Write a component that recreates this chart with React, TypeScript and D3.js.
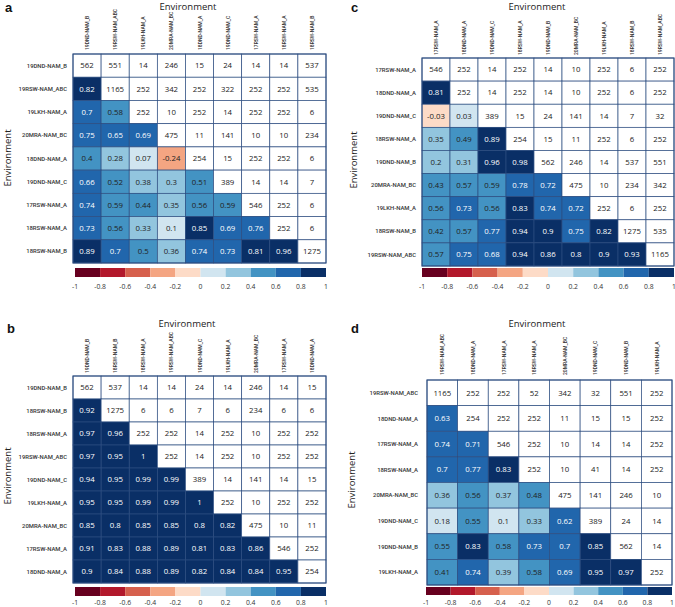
import React from "react";
import * as d3 from "d3";

// ---------- DATA ----------
const envA = ["19DND-NAM_B", "19RSW-NAM_ABC", "19LKH-NAM_A", "20MRA-NAM_BC", "18DND-NAM_A", "19DND-NAM_C", "17RSW-NAM_A", "18RSW-NAM_A", "18RSW-NAM_B"];
const matA = [
  [562, 551, 14, 246, 15, 24, 14, 14, 537],
  [0.82, 1165, 252, 342, 252, 322, 252, 252, 535],
  [0.7, 0.58, 252, 10, 252, 14, 252, 252, 6],
  [0.75, 0.65, 0.69, 475, 11, 141, 10, 10, 234],
  [0.4, 0.28, 0.07, -0.24, 254, 15, 252, 252, 6],
  [0.66, 0.52, 0.38, 0.3, 0.51, 389, 14, 14, 7],
  [0.74, 0.59, 0.44, 0.35, 0.56, 0.59, 546, 252, 6],
  [0.73, 0.56, 0.33, 0.1, 0.85, 0.69, 0.76, 252, 6],
  [0.89, 0.7, 0.5, 0.36, 0.74, 0.73, 0.81, 0.96, 1275],
];

const envB = ["19DND-NAM_B", "18RSW-NAM_B", "18RSW-NAM_A", "19RSW-NAM_ABC", "19DND-NAM_C", "19LKH-NAM_A", "20MRA-NAM_BC", "17RSW-NAM_A", "18DND-NAM_A"];
const matB = [
  [562, 537, 14, 14, 24, 14, 246, 14, 15],
  [0.92, 1275, 6, 6, 7, 6, 234, 6, 6],
  [0.97, 0.96, 252, 252, 14, 252, 10, 252, 252],
  [0.97, 0.95, 1, 252, 14, 252, 10, 252, 252],
  [0.94, 0.95, 0.99, 0.99, 389, 14, 141, 14, 15],
  [0.95, 0.95, 0.99, 0.99, 1, 252, 10, 252, 252],
  [0.85, 0.8, 0.85, 0.85, 0.8, 0.82, 475, 10, 11],
  [0.91, 0.83, 0.88, 0.89, 0.81, 0.83, 0.86, 546, 252],
  [0.9, 0.84, 0.88, 0.89, 0.82, 0.84, 0.84, 0.95, 254],
];

const envC = ["17RSW-NAM_A", "18DND-NAM_A", "19DND-NAM_C", "18RSW-NAM_A", "19DND-NAM_B", "20MRA-NAM_BC", "19LKH-NAM_A", "18RSW-NAM_B", "19RSW-NAM_ABC"];
const matC = [
  [546, 252, 14, 252, 14, 10, 252, 6, 252],
  [0.81, 252, 14, 252, 14, 10, 252, 6, 252],
  [-0.03, 0.03, 389, 15, 24, 141, 14, 7, 32],
  [0.35, 0.49, 0.89, 254, 15, 11, 252, 6, 252],
  [0.2, 0.31, 0.96, 0.98, 562, 246, 14, 537, 551],
  [0.43, 0.57, 0.59, 0.78, 0.72, 475, 10, 234, 342],
  [0.56, 0.73, 0.56, 0.83, 0.74, 0.72, 252, 6, 252],
  [0.42, 0.57, 0.77, 0.94, 0.9, 0.75, 0.82, 1275, 535],
  [0.57, 0.75, 0.68, 0.94, 0.86, 0.8, 0.9, 0.93, 1165],
];

const envD = ["19RSW-NAM_ABC", "18DND-NAM_A", "17RSW-NAM_A", "18RSW-NAM_A", "20MRA-NAM_BC", "19DND-NAM_C", "19DND-NAM_B", "19LKH-NAM_A"];
const matD = [
  [1165, 252, 252, 52, 342, 32, 551, 252],
  [0.63, 254, 252, 252, 11, 15, 15, 252],
  [0.74, 0.71, 546, 252, 10, 14, 14, 252],
  [0.7, 0.77, 0.83, 252, 10, 41, 14, 252],
  [0.36, 0.56, 0.37, 0.48, 475, 141, 246, 10],
  [0.18, 0.55, 0.1, 0.33, 0.62, 389, 24, 14],
  [0.55, 0.83, 0.58, 0.73, 0.7, 0.85, 562, 14],
  [0.41, 0.74, 0.39, 0.58, 0.69, 0.95, 0.97, 252],
];

const colorbarTicks = [-1, -0.8, -0.6, -0.4, -0.2, 0, 0.2, 0.4, 0.6, 0.8, 1];
const binColors = ["#67001f", "#b2182b", "#d6604d", "#f4a582", "#fddbc7", "#d1e5f0", "#92c5de", "#4393c3", "#2166ac", "#0a2f66"];
const axisTitle = "Environment";

// ---------- STYLE / LAYOUT ----------
const color = d3.scaleThreshold<number, string>()
  .domain([-0.8, -0.6, -0.4, -0.2, 0, 0.2, 0.4, 0.6, 0.8])
  .range(binColors);

const STROKE = "#2d4d80";
const LABEL_FONT = "Roboto, 'DejaVu Sans', sans-serif";
const VALUE_FONT = "'Open Sans', 'Noto Sans', sans-serif";

type PanelCfg = {
  letter: string; letterX: number; letterY: number;
  gx0: number; gx1: number; gy0: number; gy1: number;
  titleX: number; titleY: number; ytitleX: number; ytitleY: number;
  rowLabelX: number; colLabelY: number;
  cbX0: number; cbX1: number; cbY0: number; cbY1: number; cbLabelY: number;
  env: string[]; mat: number[][];
};

const panels: PanelCfg[] = [
  { letter: "a", letterX: 5, letterY: 12, gx0: 73, gx1: 326, gy0: 54, gy1: 263, titleX: 188, titleY: 10, ytitleX: 11, ytitleY: 158, rowLabelX: 67, colLabelY: 50, cbX0: 75, cbX1: 326, cbY0: 268, cbY1: 277, cbLabelY: 289, env: envA, mat: matA },
  { letter: "b", letterX: 7, letterY: 333, gx0: 73, gx1: 326, gy0: 376, gy1: 583, titleX: 187, titleY: 327, ytitleX: 11, ytitleY: 476, rowLabelX: 67, colLabelY: 373, cbX0: 75, cbX1: 326, cbY0: 587, cbY1: 596, cbLabelY: 605, env: envB, mat: matB },
  { letter: "c", letterX: 351, letterY: 12, gx0: 422, gx1: 674, gy0: 58, gy1: 266, titleX: 537, titleY: 10, ytitleX: 357, ytitleY: 160, rowLabelX: 416, colLabelY: 55, cbX0: 422, cbX1: 674, cbY0: 268, cbY1: 277, cbLabelY: 289, env: envC, mat: matC },
  { letter: "d", letterX: 351, letterY: 333, gx0: 427, gx1: 672, gy0: 380, gy1: 585, titleX: 537, titleY: 327, ytitleX: 355, ytitleY: 480, rowLabelX: 418, colLabelY: 375, cbX0: 426, cbX1: 672, cbY0: 587, cbY1: 595, cbLabelY: 605, env: envD, mat: matD },
];

function Panel({ p }: { p: PanelCfg }) {
  const x = d3.scaleBand<number>().domain(d3.range(p.env.length)).range([p.gx0, p.gx1]);
  const y = d3.scaleBand<number>().domain(d3.range(p.env.length)).range([p.gy0, p.gy1]);
  const cb = d3.scaleLinear().domain([-1, 1]).range([p.cbX0, p.cbX1]);
  const bw = x.bandwidth();
  const bh = y.bandwidth();
  const bins = d3.range(binColors.length).map((i) => [colorbarTicks[i], colorbarTicks[i + 1]]);

  return (
    <g>
      <text x={p.letterX} y={p.letterY} fontFamily="'Liberation Sans', Arial, sans-serif" fontWeight="bold" fontSize={13} fill="#111">{p.letter}</text>
      <text x={p.titleX} y={p.titleY} textAnchor="middle" fontFamily={VALUE_FONT} fontSize={9.5} fill="#222">{axisTitle}</text>
      <text transform={`translate(${p.ytitleX},${p.ytitleY}) rotate(-90)`} textAnchor="middle" fontFamily={VALUE_FONT} fontSize={9.5} fill="#222">{axisTitle}</text>

      {p.env.map((e, i) => (
        <text key={"r" + i} x={p.rowLabelX} y={(y(i) as number) + bh / 2} dy="0.35em" textAnchor="end" fontFamily={LABEL_FONT} fontWeight={500} fontSize={5.9} fill="#333">{e}</text>
      ))}
      {p.env.map((e, i) => (
        <text key={"c" + i} transform={`translate(${(x(i) as number) + bw / 2 + 2},${p.colLabelY}) rotate(-90)`} textAnchor="start" fontFamily={LABEL_FONT} fontWeight={500} fontSize={5} fill="#333">{e}</text>
      ))}

      {p.mat.map((row, i) =>
        row.map((v, j) => {
          const isCount = j >= i;
          const fill = isCount ? "#ffffff" : color(v);
          const txt = isCount ? "#222" : v >= 0.6 ? "#ffffff" : "#222";
          return (
            <g key={i + "-" + j}>
              <rect x={x(j)} y={y(i)} width={bw} height={bh} fill={fill} stroke={STROKE} strokeWidth={0.7} />
              <text x={(x(j) as number) + bw / 2} y={(y(i) as number) + bh / 2} dy="0.36em" textAnchor="middle" fontFamily={VALUE_FONT} fontSize={7.8} fill={txt}>{String(v)}</text>
            </g>
          );
        })
      )}
      <rect x={p.gx0} y={p.gy0} width={p.gx1 - p.gx0} height={p.gy1 - p.gy0} fill="none" stroke={STROKE} strokeWidth={1} />

      {bins.map(([a, b], i) => (
        <rect key={"cb" + i} x={cb(a)} y={p.cbY0} width={cb(b) - cb(a)} height={p.cbY1 - p.cbY0} fill={binColors[i]} />
      ))}
      {colorbarTicks.map((t, i) => (
        <text key={"t" + i} x={cb(t)} y={p.cbLabelY} textAnchor="middle" fontFamily={VALUE_FONT} fontSize={6.8} fill="#333">{String(t)}</text>
      ))}
    </g>
  );
}

export default function App() {
  return (
    <svg width={675} height={607} style={{ position: "absolute", left: 0, top: 0, background: "#fff" }}>
      <rect x={0} y={0} width={675} height={607} fill="#fff" />
      {panels.map((p) => (
        <Panel key={p.letter} p={p} />
      ))}
    </svg>
  );
}
